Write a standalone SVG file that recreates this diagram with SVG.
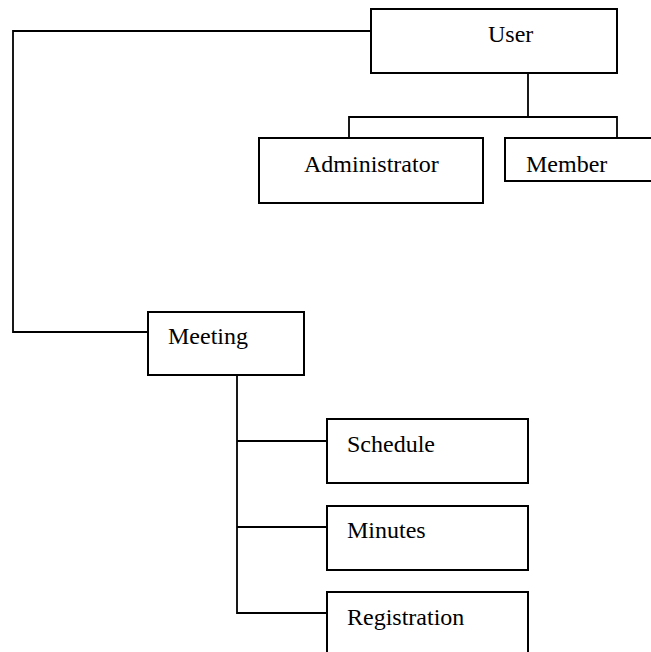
<svg xmlns="http://www.w3.org/2000/svg" width="651" height="652" viewBox="0 0 651 652">
<style>
.box{fill:#fff;stroke:#000;stroke-width:2}
.ln{fill:none;stroke:#000;stroke-width:1.8}
text{font-family:"Liberation Serif","Times New Roman",serif;font-size:24px;fill:#000}
</style>
<rect width="651" height="652" fill="#fff"/>
<g id="connectors">
<polyline class="ln" points="371,31 13,31 13,332 148,332"/>
<polyline class="ln" points="528,73 528,117"/>
<polyline class="ln" points="349,138 349,117 617,117 617,138"/>
<polyline class="ln" points="237,375 237,613 327,613"/>
<line class="ln" x1="237" y1="441" x2="327" y2="441"/>
<line class="ln" x1="237" y1="527" x2="327" y2="527"/>
</g>
<g id="user">
<rect class="box" x="371" y="9" width="246" height="64"/>
<text x="488" y="42">User</text>
</g>
<g id="administrator">
<rect class="box" x="259" y="138" width="224" height="65"/>
<text x="304" y="172">Administrator</text>
</g>
<g id="member">
<rect class="box" x="505" y="138" width="160" height="43"/>
<text x="526" y="172">Member</text>
</g>
<g id="meeting">
<rect class="box" x="148" y="312" width="156" height="63"/>
<text x="168" y="344">Meeting</text>
</g>
<g id="schedule">
<rect class="box" x="327" y="419" width="201" height="64"/>
<text x="347" y="452">Schedule</text>
</g>
<g id="minutes">
<rect class="box" x="327" y="506" width="201" height="64"/>
<text x="347" y="538">Minutes</text>
</g>
<g id="registration">
<rect class="box" x="327" y="592" width="201" height="80"/>
<text x="347" y="625">Registration</text>
</g>
</svg>
